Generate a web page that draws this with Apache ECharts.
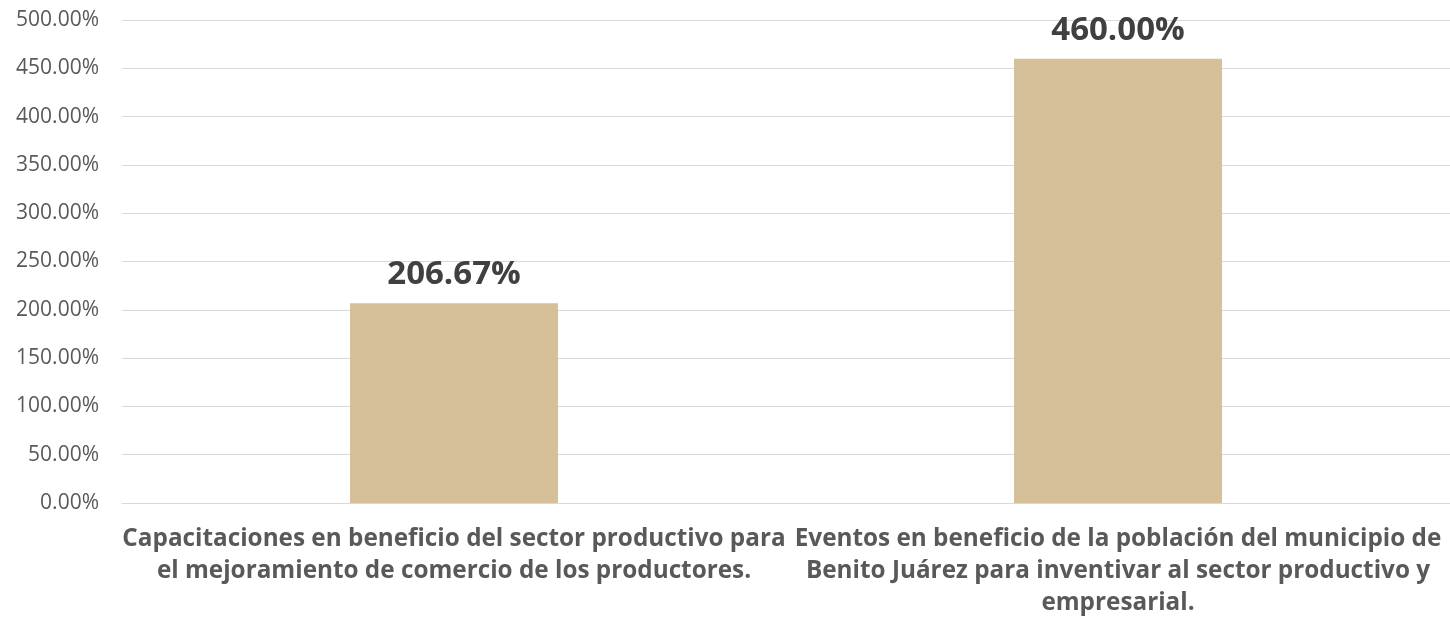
<!DOCTYPE html>
<html>
<head>
<meta charset="utf-8">
<script src="https://cdn.jsdelivr.net/npm/echarts@6/dist/echarts.min.js"></script>
<style>html,body{margin:0;padding:0;background:#fff}#c{width:1450px;height:627px}</style>
</head>
<body>
<div id="c"></div>
<script>
const categories = [
  "Capacitaciones en beneficio del sector productivo para\nel mejoramiento de comercio de los productores.",
  "Eventos en beneficio de la población del municipio de\nBenito Juárez para inventivar al sector productivo y\nempresarial."
];
const values = [206.67, 460.00];
const yMin = 0, yMax = 500, yStep = 50;

const chart = echarts.init(document.getElementById('c'), null, {renderer: 'canvas'});
chart.setOption({
  animation: false,
  grid: {left: 122, right: -2, top: 20, bottom: 124, containLabel: false},
  xAxis: {
    type: 'category',
    data: categories,
    axisLine: {show: true, lineStyle: {color: '#d9d9d9', width: 1}},
    axisTick: {show: false},
    axisLabel: {
      interval: 0,
      margin: 20,
      fontFamily: 'Open Sans',
      fontWeight: 'bold',
      fontSize: 24.3,
      lineHeight: 32,
      color: '#595959',
      align: 'center'
    }
  },
  yAxis: {
    type: 'value',
    min: yMin, max: yMax, interval: yStep,
    axisLine: {show: false},
    axisTick: {show: false},
    splitLine: {lineStyle: {color: '#d9d9d9', width: 1}},
    axisLabel: {
      margin: 23,
      fontFamily: 'Open Sans',
      fontSize: 21,
      color: '#595959',
      formatter: v => v.toFixed(2) + '%'
    }
  },
  series: [{
    type: 'bar',
    data: values,
    barWidth: 208,
    itemStyle: {color: '#D5C09A'},
    label: {
      show: true,
      position: 'top',
      distance: 12,
      fontFamily: 'Open Sans',
      fontWeight: 'bold',
      fontSize: 33,
      color: '#404040',
      formatter: p => p.value.toFixed(2) + '%'
    }
  }]
});
</script>
</body>
</html>
